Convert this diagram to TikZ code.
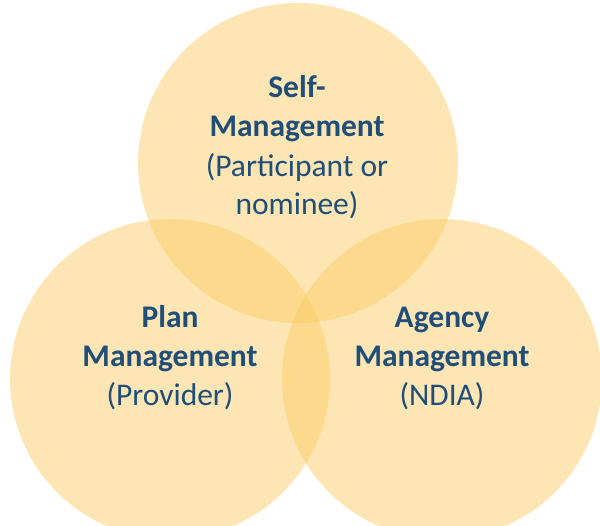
\documentclass[tikz,border=0pt]{standalone}
\usepackage{fontspec}
\setmainfont{Carlito}
\definecolor{venn}{RGB}{251,203,99}
\definecolor{txt}{RGB}{31,78,121}
\begin{document}
\begin{tikzpicture}[x=1pt,y=1pt,
  vcirc/.style={circle, fill=venn, fill opacity=0.48, draw=none, minimum size=320pt, inner sep=0pt},
  head/.style={anchor=base, text=txt, font=\fontsize{31.5}{36}\selectfont\bfseries, inner sep=0pt},
  sub/.style={anchor=base, text=txt, font=\fontsize{31.5}{36}\selectfont, inner sep=0pt}]
\useasboundingbox (0,0) rectangle (600,526);
\begin{scope}
\clip (0,0) rectangle (600,526);
\node[vcirc] (self) at (298,363) {};
\node[vcirc] (plan) at (170,147) {};
\node[vcirc] (agency) at (442,147) {};
\end{scope}
\node[head] (s1) at (297,428) {Self-};
\node[head] (s2) at (297,389) {Management};
\node[sub] (s3) at (297,349) {(Participant or};
\node[sub] (s4) at (297,311) {nominee)};
\node[head] (p1) at (170,198) {Plan};
\node[head] (p2) at (170,159) {Management};
\node[sub] (p3) at (170,120) {(Provider)};
\node[head] (a1) at (442,198) {Agency};
\node[head] (a2) at (442,159) {Management};
\node[sub] (a3) at (442,120) {(NDIA)};
\end{tikzpicture}
\end{document}
